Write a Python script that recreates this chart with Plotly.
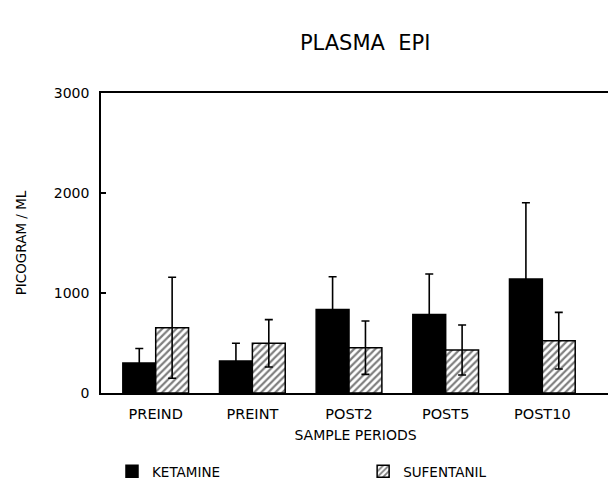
import plotly.graph_objects as go

categories = ["PREIND", "PREINT", "POST2", "POST5", "POST10"]
ketamine = [300, 320, 835, 785, 1140]
ketamine_err = [145, 177, 327, 405, 763]
sufentanil = [653, 497, 453, 430, 523]
sufentanil_err = [505, 237, 267, 250, 283]
y_ticks = [0, 1000, 2000, 3000]

FONT = "DejaVu Sans"

fig = go.Figure()
fig.add_trace(go.Bar(
    x=categories, y=ketamine, name="KETAMINE", legend="legend", showlegend=True,
    marker=dict(color="black", line=dict(color="black", width=1.5)),
    error_y=dict(type="data", array=ketamine_err, color="black", thickness=1.6, width=4),
))
fig.add_trace(go.Bar(
    x=categories, y=sufentanil, name="SUFENTANIL", legend="legend2", showlegend=True,
    marker=dict(color="white", line=dict(color="black", width=1.5),
                pattern=dict(shape="/", fgcolor="black", bgcolor="white", size=5, solidity=0.45)),
    error_y=dict(type="data", array=sufentanil_err, color="black", thickness=1.6, width=4),
))

legend_font = dict(size=13.5, family=FONT, color="black")

fig.update_layout(
    width=616, height=481,
    showlegend=True,
    margin=dict(l=93, r=14, t=85, b=96, autoexpand=False),
    paper_bgcolor="white", plot_bgcolor="white",
    barmode="group", bargap=0.32, bargroupgap=0,
    font=dict(family=FONT, color="black", size=12),
    title=dict(text="PLASMA  EPI", x=0.519, xref="paper", y=1 - 35 / 481, yref="container",
               xanchor="center", yanchor="middle",
               font=dict(family=FONT, size=21, color="black", weight="normal")),
    xaxis=dict(range=[-0.566, 4.70], showline=True, linecolor="black", linewidth=1.6,
               mirror=True, ticks="", showgrid=False, automargin=False, ticklabelstandoff=7,
               tickfont=dict(size=14.5, family=FONT, color="black"),
               title=dict(text="SAMPLE PERIODS", font=dict(size=14, family=FONT, color="black"), standoff=9)),
    yaxis=dict(range=[0, 3000], tickvals=y_ticks, showline=True, linecolor="black", linewidth=1.6,
               mirror=True, ticks="inside", ticklen=5, tickcolor="black", tickwidth=1.5,
               showgrid=False, zeroline=False, automargin=False, ticklabelstandoff=7,
               tickfont=dict(size=14, family=FONT, color="black"),
               title=dict(text="PICOGRAM / ML", font=dict(size=13.5, family=FONT, color="black"), standoff=24)),
    legend=dict(orientation="h", x=0.0216, xanchor="left", y=-0.21, yanchor="top",
                font=legend_font, bgcolor="rgba(0,0,0,0)", visible=True),
    legend2=dict(orientation="h", x=0.515, xanchor="left", y=-0.21, yanchor="top",
                 font=legend_font, bgcolor="rgba(0,0,0,0)", visible=True),
)

fig.write_html("out.html")
